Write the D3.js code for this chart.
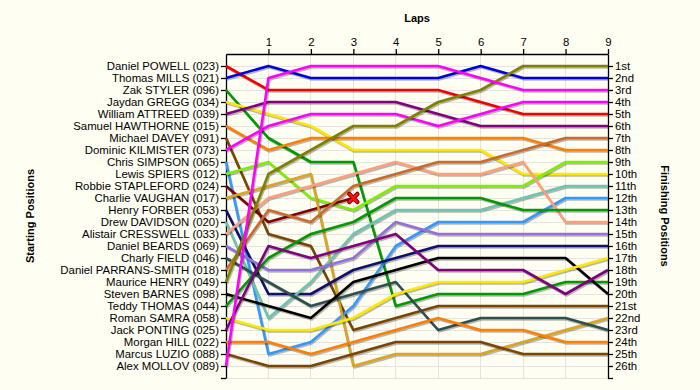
<!DOCTYPE html>
<html><head><meta charset="utf-8">
<script src="https://cdn.jsdelivr.net/npm/d3@7"></script>
<style>
html,body{margin:0;padding:0;background:#FFFEF3;}
svg{display:block;font-family:"Liberation Sans",Arial,sans-serif;}
</style></head>
<body>
<script>
const riders = [
 "Daniel POWELL (023)","Thomas MILLS (021)","Zak STYLER (096)","Jaydan GREGG (034)",
 "William ATTREED (039)","Samuel HAWTHORNE (015)","Michael DAVEY (091)","Dominic KILMISTER (073)",
 "Chris SIMPSON (065)","Lewis SPIERS (012)","Robbie STAPLEFORD (024)","Charlie VAUGHAN (017)",
 "Henry FORBER (053)","Drew DAVIDSON (020)","Alistair CRESSWELL (033)","Daniel BEARDS (069)",
 "Charly FIELD (046)","Daniel PARRANS-SMITH (018)","Maurice HENRY (049)","Steven BARNES (098)",
 "Teddy THOMAS (044)","Roman SAMRA (058)","Jack PONTING (025)","Morgan HILL (022)",
 "Marcus LUZIO (088)","Alex MOLLOV (089)"
];
const colors = [
 "#EE0000","#0000DD","#009900","#FFE800","#800080","#FF8000","#7A4500","#FF00FF",
 "#3399FF","#80EE00","#800000","#DAA520","#101070","#6CC5AE","#FFA07A","#9370DB",
 "#2F4F4F","#CC6A28","#808000","#000000","#009900","#FFE800","#800080","#FF8000",
 "#7A4500","#FF00FF"
];
// position of each rider at laps 0..9 (Robbie STAPLEFORD retired after lap 3)
const positions = [
 [1,3,3,3,3,3,4,5,5,5],
 [2,1,2,2,2,2,1,2,2,2],
 [3,7,9,9,21,20,20,20,19,19],
 [4,5,6,8,8,8,8,10,10,10],
 [5,4,4,4,4,5,6,6,6,6],
 [6,8,7,7,7,7,7,7,8,8],
 [7,15,16,23,22,21,21,21,21,21],
 [8,6,5,5,5,6,5,4,4,4],
 [9,25,24,21,16,14,14,14,12,12],
 [10,9,12,13,11,11,11,11,9,9],
 [11,14,13,12],
 [12,11,10,26,25,25,25,24,23,22],
 [13,20,20,18,17,16,16,16,16,16],
 [14,22,19,15,13,13,13,12,11,11],
 [15,12,11,10,9,10,10,9,14,14],
 [16,18,18,17,14,15,15,15,15,15],
 [17,19,21,20,19,23,22,22,22,23],
 [18,13,14,11,10,9,9,8,7,7],
 [19,10,8,6,6,4,3,1,1,1],
 [20,21,22,19,18,17,17,17,17,20],
 [21,17,15,14,12,12,12,13,13,13],
 [22,23,23,22,20,19,19,19,18,17],
 [23,16,17,16,15,18,18,18,20,18],
 [24,24,25,24,23,22,23,23,24,24],
 [25,26,26,25,24,24,24,25,25,25],
 [26,2,1,1,1,1,2,3,3,3]
];
const retired = [{rider: 10, lap: 3}];
const lapTicks = [1,2,3,4,5,6,7,8,9];
const rowTicks = [1,2,3,4,5,6,7,8,9,10,11,12,13,14,15,16,17,18,19,20,21,22,23,24,25,26];
const finishLabels = ["1st","2nd","3rd","4th","5th","6th","7th","8th","9th","10th","11th","12th","13th",
 "14th","15th","16th","17th","18th","19th","20th","21st","22nd","23rd","24th","25th","26th"];

const W = 700, H = 390;
const svg = d3.select("body").append("svg").attr("width", W).attr("height", H);
svg.append("rect").attr("width", W).attr("height", H).attr("fill", "#FFFEF3");

const x = d3.scaleLinear().domain([0, 9]).range([226, 608]);
const y = d3.scaleLinear().domain([0, 27]).range([54, 378]);

// grid
const grid = svg.append("g");
grid.selectAll("line.h").data(rowTicks.concat([27])).join("line")
  .attr("x1", x(0)).attr("x2", x(9)).attr("y1", d => y(d)).attr("y2", d => y(d))
  .attr("stroke", "#E4E4E4").attr("stroke-width", 1).attr("shape-rendering", "crispEdges");
grid.selectAll("line.v").data(lapTicks).join("line")
  .attr("y1", y(0)).attr("y2", y(27)).attr("x1", d => x(d)).attr("x2", d => x(d))
  .attr("stroke", "#E4E4E4").attr("stroke-width", 1).attr("shape-rendering", "crispEdges");

// axes
const topAxis = d3.axisTop(x).tickValues(lapTicks).tickSize(5).tickSizeOuter(0).tickFormat(d3.format("d"));
const gT = svg.append("g").attr("transform", `translate(0,${y(0)})`).call(topAxis);
const leftAxis = d3.axisLeft(y).tickValues(rowTicks.concat([27])).tickSize(5).tickSizeOuter(0)
  .tickFormat(d => d <= riders.length ? riders[d - 1] : "");
const gL = svg.append("g").attr("transform", `translate(${x(0)},0)`).call(leftAxis);
const rightAxis = d3.axisRight(y).tickValues(rowTicks.concat([27])).tickSize(5).tickSizeOuter(0)
  .tickFormat(d => d <= finishLabels.length ? finishLabels[d - 1] : "");
const gR = svg.append("g").attr("transform", `translate(${x(9)},0)`).call(rightAxis);
[gT, gL, gR].forEach(g => {
  g.selectAll("path.domain").attr("stroke", "#000").attr("stroke-width", 1.3);
  g.selectAll(".tick line").attr("stroke", "#000").attr("stroke-width", 1.3);
  g.selectAll("text").attr("font-size", 11.4).attr("fill", "#000")
    .attr("font-family", '"Liberation Sans",Arial,sans-serif');
});
gT.selectAll("text").attr("dy", "0");
gL.selectAll("text").attr("x", -7);
gR.selectAll("text").attr("x", 7);

// lines
const line = d3.line().x((d, i) => x(i)).y(d => y(d));
const linesG = svg.append("g");
positions.forEach((p, i) => {
  linesG.append("path").attr("d", line(p)).attr("fill", "none")
    .attr("stroke", "#000").attr("stroke-opacity", 0.28).attr("stroke-width", 2.6)
    .attr("transform", "translate(1,1.5)").attr("stroke-linejoin", "round");
  linesG.append("path").attr("d", line(p)).attr("fill", "none")
    .attr("stroke", colors[i]).attr("stroke-width", 2.6).attr("stroke-linejoin", "round");
});

// retirement markers
retired.forEach(r => {
  const px = x(r.lap), py = y(positions[r.rider][r.lap]);
  const cross = "M-4,-4L4,4M-4,4L4,-4";
  svg.append("path").attr("d", cross).attr("transform", `translate(${px},${py})`)
    .attr("stroke", "#700000").attr("stroke-width", 4.5).attr("stroke-linecap", "round");
  svg.append("path").attr("d", cross).attr("transform", `translate(${px},${py})`)
    .attr("stroke", "#FF1010").attr("stroke-width", 2.5).attr("stroke-linecap", "round");
});

// titles
svg.append("text").attr("x", (x(0) + x(9)) / 2).attr("y", 22).attr("text-anchor", "middle")
  .attr("font-size", 11).attr("font-weight", "bold").text("Laps");
svg.append("text").attr("transform", `translate(34,${y(13.5)}) rotate(-90)`).attr("text-anchor", "middle")
  .attr("font-size", 11).attr("font-weight", "bold").text("Starting Positions");
svg.append("text").attr("transform", `translate(661,${y(13.5)}) rotate(90)`).attr("text-anchor", "middle")
  .attr("font-size", 11).attr("font-weight", "bold").text("Finishing Positions");
</script>
</body></html>
